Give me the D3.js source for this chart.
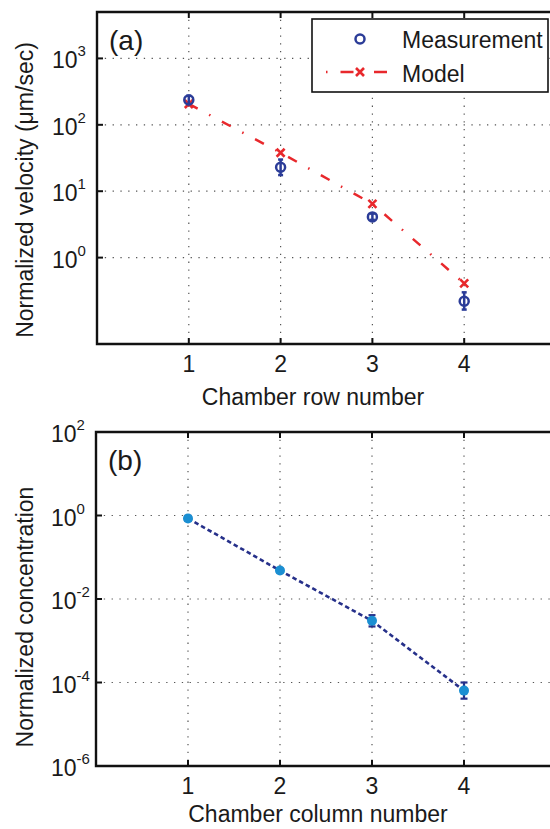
<!DOCTYPE html>
<html>
<head>
<meta charset="utf-8" />
<title>Chamber velocity and concentration</title>
<script src="https://cdn.jsdelivr.net/npm/d3@7/dist/d3.min.js"></script>
<style>
  body { margin: 0; background: #fff; }
  svg text { font-family: "Liberation Sans", Arial, sans-serif; fill: #1a1a1a; }
</style>
</head>
<body>
<svg width="550" height="829"></svg>
<script>
// ---- data ----
const chambers = [1, 2, 3, 4];

// panel (a): velocity, um/sec
const measVelocity = [237, 23, 4.1, 0.22];
const measVelLow   = [205, 17.5, 3.7, 0.165];
const measVelHigh  = [275, 30, 4.6, 0.30];
const modelVelocity = [206, 38, 6.45, 0.41];

// panel (b): concentration
const concentration = [0.85, 0.048, 0.0030, 6.4e-5];
const concLow  = [0.74, 0.043, 0.0022, 4.1e-5];
const concHigh = [0.98, 0.054, 0.0041, 1.0e-4];

const xTicks = [1, 2, 3, 4];
const yTicksA = [0, 1, 2, 3];          // exponents
const yTicksB = [-6, -4, -2, 0, 2];

const blueMeas = "#2b3c98";
const redModel = "#e8282c";
const navy = "#26308a";
const lightBlue = "#1b8fd2";

const svg = d3.select("svg");

function panel(cfg) {
  const x = d3.scaleLinear().domain([0, 5]).range([cfg.left, cfg.right]);
  const y = d3.scaleLog().domain(cfg.yDomain).range([cfg.bottom, cfg.top]);
  const g = svg.append("g");

  // dotted grid
  g.selectAll(".vgrid").data(xTicks).enter().append("line")
    .attr("x1", d => x(d)).attr("x2", d => x(d))
    .attr("y1", cfg.top).attr("y2", cfg.bottom)
    .attr("stroke", "#555").attr("stroke-width", 1.2)
    .attr("stroke-dasharray", "1.3,6.5");
  g.selectAll(".hgrid").data(cfg.yTicks).enter().append("line")
    .attr("x1", cfg.left).attr("x2", cfg.right)
    .attr("y1", d => y(Math.pow(10, d))).attr("y2", d => y(Math.pow(10, d)))
    .attr("stroke", "#555").attr("stroke-width", 1.2)
    .attr("stroke-dasharray", "1.3,6.5");

  // inward ticks
  xTicks.forEach(t => {
    g.append("line").attr("x1", x(t)).attr("x2", x(t))
      .attr("y1", cfg.bottom).attr("y2", cfg.bottom - 6)
      .attr("stroke", "#111").attr("stroke-width", 2);
    g.append("line").attr("x1", x(t)).attr("x2", x(t))
      .attr("y1", cfg.top).attr("y2", cfg.top + 6)
      .attr("stroke", "#111").attr("stroke-width", 2);
  });
  cfg.yTicks.forEach(e => {
    g.append("line").attr("x1", cfg.left).attr("x2", cfg.left + 6)
      .attr("y1", y(Math.pow(10, e))).attr("y2", y(Math.pow(10, e)))
      .attr("stroke", "#111").attr("stroke-width", 2);
  });

  // frame (right side falls outside the picture)
  g.append("path")
    .attr("d", `M${cfg.right},${cfg.top}H${cfg.left}V${cfg.bottom}H${cfg.right}`)
    .attr("fill", "none").attr("stroke", "#111").attr("stroke-width", 2.4);

  // tick labels
  g.selectAll(".xl").data(xTicks).enter().append("text")
    .attr("x", d => x(d)).attr("y", cfg.bottom + 28)
    .attr("text-anchor", "middle").attr("font-size", 23)
    .text(d => d);
  cfg.yTicks.forEach(e => {
    const t = g.append("text")
      .attr("x", cfg.left - 45).attr("y", y(Math.pow(10, e)) + 10)
      .attr("font-size", 23);
    t.append("tspan").text("10");
    t.append("tspan").attr("dy", -12).attr("font-size", 15).text(e);
  });

  // axis titles
  g.append("text")
    .attr("x", cfg.xLabelX).attr("y", cfg.bottom + cfg.xLabelDy)
    .attr("text-anchor", "middle").attr("font-size", 23)
    .text(cfg.xLabel);
  g.append("text")
    .attr("transform", `translate(33,${cfg.yLabelY}) rotate(-90)`)
    .attr("text-anchor", "middle").attr("font-size", 23)
    .text(cfg.yLabel);

  // panel tag
  g.append("text")
    .attr("x", cfg.left + 12).attr("y", cfg.top + 38)
    .attr("font-size", 28).text(cfg.tag);

  return { x, y, g };
}

// ---------- panel (a) ----------
const A = panel({
  left: 97, right: 556, top: 12, bottom: 344,
  yDomain: [0.05, 5000], yTicks: yTicksA,
  xLabel: "Chamber row number", xLabelX: 313, xLabelDy: 61,
  yLabel: "Normalized velocity (\u03bcm/sec)", yLabelY: 190,
  tag: "(a)"
});

const modelPts = chambers.map((c, i) => [c, modelVelocity[i]]);
A.g.append("path")
  .datum(modelPts)
  .attr("d", d3.line().x(d => A.x(d[0])).y(d => A.y(d[1])))
  .attr("fill", "none").attr("stroke", redModel).attr("stroke-width", 2.5)
  .attr("stroke-dasharray", "10,13,1.5,13");

// model x markers
function xMark(g, cx, cy, s, color) {
  g.append("path")
    .attr("d", `M${cx - s},${cy - s}L${cx + s},${cy + s}M${cx - s},${cy + s}L${cx + s},${cy - s}`)
    .attr("stroke", color).attr("stroke-width", 2.6).attr("fill", "none");
}
modelPts.forEach(d => xMark(A.g, A.x(d[0]), A.y(d[1]), 4, redModel));

// measurement error bars + open circles
chambers.forEach((c, i) => {
  A.g.append("line")
    .attr("x1", A.x(c)).attr("x2", A.x(c))
    .attr("y1", A.y(measVelLow[i])).attr("y2", A.y(measVelHigh[i]))
    .attr("stroke", blueMeas).attr("stroke-width", 2.5);
  [measVelLow[i], measVelHigh[i]].forEach(v => {
    A.g.append("line")
      .attr("x1", A.x(c) - 2.5).attr("x2", A.x(c) + 2.5)
      .attr("y1", A.y(v)).attr("y2", A.y(v))
      .attr("stroke", blueMeas).attr("stroke-width", 2.5);
  });
});
A.g.selectAll(".meas").data(chambers).enter().append("circle")
  .attr("cx", d => A.x(d)).attr("cy", (d, i) => A.y(measVelocity[i]))
  .attr("r", 4.5).attr("fill", "none")
  .attr("stroke", blueMeas).attr("stroke-width", 2.5);

// legend
const lg = A.g.append("g");
lg.append("rect").attr("x", 312).attr("y", 19).attr("width", 236).attr("height", 73)
  .attr("fill", "#fff").attr("stroke", "#111").attr("stroke-width", 1.6);
lg.append("circle").attr("cx", 360).attr("cy", 39).attr("r", 4.5)
  .attr("fill", "none").attr("stroke", blueMeas).attr("stroke-width", 2.5);
lg.append("text").attr("x", 402).attr("y", 48).attr("font-size", 23).text("Measurement");
lg.append("line").attr("x1", 326).attr("x2", 393).attr("y1", 72).attr("y2", 72)
  .attr("stroke", redModel).attr("stroke-width", 2.5)
  .attr("stroke-dasharray", "1.5,13,13,6");
xMark(lg, 360, 72, 4, redModel);
lg.append("text").attr("x", 402).attr("y", 82).attr("font-size", 23).text("Model");

// ---------- panel (b) ----------
const B = panel({
  left: 96, right: 556, top: 432, bottom: 766,
  yDomain: [1e-6, 1e2], yTicks: yTicksB,
  xLabel: "Chamber column number", xLabelX: 318, xLabelDy: 56,
  yLabel: "Normalized concentration", yLabelY: 617,
  tag: "(b)"
});

B.g.append("path")
  .datum(chambers.map((c, i) => [c, concentration[i]]))
  .attr("d", d3.line().x(d => B.x(d[0])).y(d => B.y(d[1])))
  .attr("fill", "none").attr("stroke", navy).attr("stroke-width", 2.6)
  .attr("stroke-dasharray", "4.5,3");

chambers.forEach((c, i) => {
  B.g.append("line")
    .attr("x1", B.x(c)).attr("x2", B.x(c))
    .attr("y1", B.y(concLow[i])).attr("y2", B.y(concHigh[i]))
    .attr("stroke", navy).attr("stroke-width", 2.2);
  [concLow[i], concHigh[i]].forEach(v => {
    B.g.append("line")
      .attr("x1", B.x(c) - 3.5).attr("x2", B.x(c) + 3.5)
      .attr("y1", B.y(v)).attr("y2", B.y(v))
      .attr("stroke", navy).attr("stroke-width", 2.2);
  });
});
B.g.selectAll(".conc").data(chambers).enter().append("circle")
  .attr("cx", d => B.x(d)).attr("cy", (d, i) => B.y(concentration[i]))
  .attr("r", 5).attr("fill", lightBlue);
</script>
</body>
</html>
